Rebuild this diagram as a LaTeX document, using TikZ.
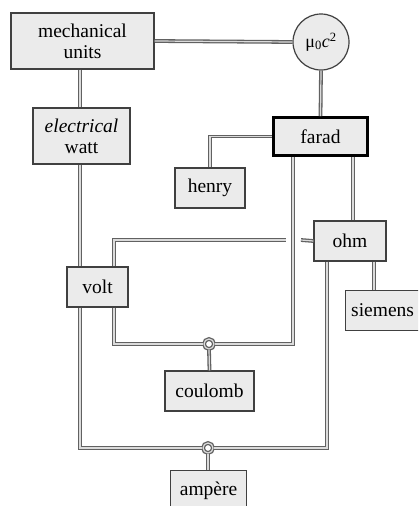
\documentclass[tikz,border=0pt]{standalone}
\usepackage{fontspec}
\setmainfont{Liberation Serif}
\begin{document}
\begin{tikzpicture}[x=1pt,y=-1pt,
  unitbox/.style={draw=black!75,line width=1.2pt,fill=black!8,inner sep=0pt,
    font=\fontsize{19.5}{21}\selectfont,align=center},
  link/.style={draw=black!62,line width=1.3pt,double=black!14,double distance=1.2pt},
  joint/.style={circle,draw=black!62,line width=1.3pt,double=black!14,double distance=1.2pt,
    fill=white,minimum size=10pt,inner sep=0pt}]
\clip (0,0) rectangle (418,506);
\fill[white] (0,0) rectangle (418,506);

% unit boxes
\node[unitbox,minimum width=143pt,minimum height=56pt] (mech) at (82.5,41) {mechanical\\units};
\node[unitbox,minimum width=97pt,minimum height=56pt] (watt) at (81.5,136) {\textit{electrical}\\watt};
\node[circle,draw=black!75,line width=1.2pt,fill=black!8,minimum size=56pt,inner sep=0pt,
  font=\fontsize{18}{19}\selectfont] (mu) at (321,42) {μ\textsubscript{0}\textit{c}\textsuperscript{2}};
\node[unitbox,draw=black,line width=2.8pt,minimum width=94pt,minimum height=38pt] (farad) at (320.5,136.5) {farad};
\node[unitbox,minimum width=70pt,minimum height=40pt] (henry) at (210,188) {henry};
\node[unitbox,minimum width=72pt,minimum height=40pt] (ohm) at (350,241) {ohm};
\node[unitbox,minimum width=61pt,minimum height=40pt] (volt) at (97.5,287) {volt};
\node[unitbox,minimum width=78pt,minimum height=40pt,anchor=north west] (siemens) at (345,290) {\hspace*{-4pt}siemens};
\node[unitbox,minimum width=89pt,minimum height=40pt] (coulomb) at (209.5,391) {coulomb};
\node[unitbox,minimum width=76pt,minimum height=40pt,anchor=north west] (ampere) at (170,470) {\raisebox{-3pt}{ampère}};

% junction points
\node[joint] (jq) at (209,344) {};
\node[joint] (ja) at (208,448) {};
\coordinate (gapL) at (286,240);
\coordinate (gapR) at (301,240);

% connectors
\draw[link] (mech.east) -- (mu.west);
\draw[link] (mu.south) -- (farad.north);
\draw[link] (mech.south -| 80,0) -- (watt.north -| 80,0);
\draw[link] (watt.south -| 80,0) -- (volt.north -| 80,0);
\draw[link] (farad.west) -| (henry.north);
\draw[link] (farad.south -| 353,0) -- (ohm.north -| 353,0);
\draw[link] (ohm.south -| 374,0) -- (siemens.north -| 374,0);
\draw[link] (volt.north -| 114,0) |- (gapL);
\draw[link] (gapR) -- (ohm.west);
\draw[link] (volt.south -| 114,0) |- (jq.west);
\draw[link] (farad.south -| 293,0) |- (jq.east);
\draw[link] (jq.south) -- (coulomb.north);
\draw[link] (volt.south -| 80,0) |- (ja.west);
\draw[link] (ohm.south -| 327,0) |- (ja.east);
\draw[link] (ja.south) -- (ampere.north -| ja);
\end{tikzpicture}
\end{document}
